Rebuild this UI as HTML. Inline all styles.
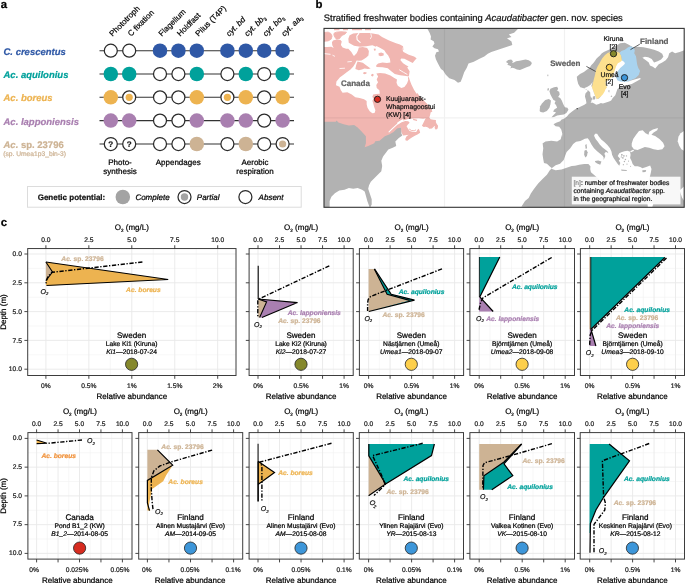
<!DOCTYPE html>
<html><head><meta charset="utf-8"><title>Figure</title>
<style>
html,body{margin:0;padding:0;background:#fff;}
body{width:685px;height:583px;overflow:hidden;font-family:"Liberation Sans",sans-serif;}
svg{display:block;will-change:transform;text-rendering:geometricPrecision;font-family:"Liberation Sans",sans-serif;}
</style></head><body>
<svg width="685" height="583" viewBox="0 0 685 583">
<rect width="685" height="583" fill="#fff"/>
<text x="0.8" y="8" font-size="11.4" font-weight="bold" fill="#000" stroke="#000" stroke-width="0.22">a</text>
<text transform="translate(112.6,36.8) rotate(-45)" font-size="8" fill="#000" stroke="#000" stroke-width="0.2">Phototroph</text>
<text transform="translate(131,36.8) rotate(-45)" font-size="8" fill="#000" stroke="#000" stroke-width="0.2">C fixation</text>
<text transform="translate(161.8,36.8) rotate(-45)" font-size="8" fill="#000" stroke="#000" stroke-width="0.2">Flagellum</text>
<text transform="translate(180.2,36.8) rotate(-45)" font-size="8" fill="#000" stroke="#000" stroke-width="0.2">Holdfast</text>
<text transform="translate(198.6,36.8) rotate(-45)" font-size="8" fill="#000" stroke="#000" stroke-width="0.2">Pilus (T4P)</text>
<text transform="translate(229.2,36.8) rotate(-45)" font-size="8" fill="#000" stroke="#000" stroke-width="0.2"><tspan font-style="italic">cyt. bd</tspan></text>
<text transform="translate(247.6,36.8) rotate(-45)" font-size="8" fill="#000" stroke="#000" stroke-width="0.2"><tspan font-style="italic">cyt. bb</tspan><tspan font-size="5" dy="1.8">3</tspan></text>
<text transform="translate(266,36.8) rotate(-45)" font-size="8" fill="#000" stroke="#000" stroke-width="0.2"><tspan font-style="italic">cyt. bo</tspan><tspan font-size="5" dy="1.8">3</tspan></text>
<text transform="translate(284.4,36.8) rotate(-45)" font-size="8" fill="#000" stroke="#000" stroke-width="0.2"><tspan font-style="italic">cyt. aa</tspan><tspan font-size="5" dy="1.8">3</tspan></text>
<line x1="99.5" y1="50.7" x2="294" y2="50.7" stroke="#333" stroke-width="1.1"/>
<circle cx="110.8" cy="50.7" r="6.5" fill="#fff" stroke="#2b2b2b" stroke-width="1.25"/>
<circle cx="129.2" cy="50.7" r="6.5" fill="#fff" stroke="#2b2b2b" stroke-width="1.25"/>
<circle cx="160" cy="50.7" r="7.25" fill="#2f58a6"/>
<circle cx="178.4" cy="50.7" r="7.25" fill="#2f58a6"/>
<circle cx="196.8" cy="50.7" r="7.25" fill="#2f58a6"/>
<circle cx="227.4" cy="50.7" r="7.25" fill="#2f58a6"/>
<circle cx="245.8" cy="50.7" r="7.25" fill="#2f58a6"/>
<circle cx="264.2" cy="50.7" r="7.25" fill="#2f58a6"/>
<circle cx="282.6" cy="50.7" r="7.25" fill="#2f58a6"/>
<text x="3.5" y="54.7" font-size="9.5" font-weight="bold" font-style="italic" fill="#2f58a6" stroke="#2f58a6" stroke-width="0.22">C. crescentus</text>
<line x1="99.5" y1="74" x2="294" y2="74" stroke="#333" stroke-width="1.1"/>
<circle cx="110.8" cy="74" r="7.25" fill="#00a19b"/>
<circle cx="129.2" cy="74" r="7.25" fill="#00a19b"/>
<circle cx="160" cy="74" r="6.5" fill="#fff" stroke="#2b2b2b" stroke-width="1.25"/>
<circle cx="178.4" cy="74" r="6.5" fill="#fff" stroke="#2b2b2b" stroke-width="1.25"/>
<circle cx="196.8" cy="74" r="7.25" fill="#00a19b"/>
<circle cx="227.4" cy="74" r="6.5" fill="#fff" stroke="#2b2b2b" stroke-width="1.25"/>
<circle cx="245.8" cy="74" r="7.25" fill="#00a19b"/>
<circle cx="264.2" cy="74" r="6.5" fill="#fff" stroke="#2b2b2b" stroke-width="1.25"/>
<circle cx="282.6" cy="74" r="7.25" fill="#00a19b"/>
<text x="3.5" y="78" font-size="9.5" font-weight="bold" font-style="italic" fill="#00a19b" stroke="#00a19b" stroke-width="0.22">Ac. aquilonius</text>
<line x1="99.5" y1="97.3" x2="294" y2="97.3" stroke="#333" stroke-width="1.1"/>
<circle cx="110.8" cy="97.3" r="7.25" fill="#edb350"/>
<circle cx="129.2" cy="97.3" r="6.5" fill="#fff" stroke="#2b2b2b" stroke-width="1.25"/>
<circle cx="129.2" cy="97.3" r="3.6" fill="#edb350"/>
<circle cx="160" cy="97.3" r="6.5" fill="#fff" stroke="#2b2b2b" stroke-width="1.25"/>
<circle cx="178.4" cy="97.3" r="6.5" fill="#fff" stroke="#2b2b2b" stroke-width="1.25"/>
<circle cx="196.8" cy="97.3" r="7.25" fill="#edb350"/>
<circle cx="227.4" cy="97.3" r="6.5" fill="#fff" stroke="#2b2b2b" stroke-width="1.25"/>
<circle cx="227.4" cy="97.3" r="3.6" fill="#edb350"/>
<circle cx="245.8" cy="97.3" r="7.25" fill="#edb350"/>
<circle cx="264.2" cy="97.3" r="6.5" fill="#fff" stroke="#2b2b2b" stroke-width="1.25"/>
<circle cx="282.6" cy="97.3" r="7.25" fill="#edb350"/>
<text x="3.5" y="101.3" font-size="9.5" font-weight="bold" font-style="italic" fill="#edb350" stroke="#edb350" stroke-width="0.22">Ac. boreus</text>
<line x1="99.5" y1="120.6" x2="294" y2="120.6" stroke="#333" stroke-width="1.1"/>
<circle cx="110.8" cy="120.6" r="7.25" fill="#a97fb0"/>
<circle cx="129.2" cy="120.6" r="7.25" fill="#a97fb0"/>
<circle cx="160" cy="120.6" r="6.5" fill="#fff" stroke="#2b2b2b" stroke-width="1.25"/>
<circle cx="178.4" cy="120.6" r="6.5" fill="#fff" stroke="#2b2b2b" stroke-width="1.25"/>
<circle cx="196.8" cy="120.6" r="7.25" fill="#a97fb0"/>
<circle cx="227.4" cy="120.6" r="7.25" fill="#a97fb0"/>
<circle cx="245.8" cy="120.6" r="7.25" fill="#a97fb0"/>
<circle cx="264.2" cy="120.6" r="6.5" fill="#fff" stroke="#2b2b2b" stroke-width="1.25"/>
<circle cx="282.6" cy="120.6" r="7.25" fill="#a97fb0"/>
<text x="3.5" y="124.6" font-size="9.5" font-weight="bold" font-style="italic" fill="#a97fb0" stroke="#a97fb0" stroke-width="0.22">Ac. lapponiensis</text>
<line x1="99.5" y1="144" x2="294" y2="144" stroke="#333" stroke-width="1.1"/>
<circle cx="110.8" cy="144" r="6.5" fill="#fff" stroke="#2b2b2b" stroke-width="1.25"/>
<text x="110.8" y="146.8" font-size="8" text-anchor="middle" font-weight="bold" fill="#1a1a1a" stroke="#1a1a1a" stroke-width="0.22">?</text>
<circle cx="129.2" cy="144" r="6.5" fill="#fff" stroke="#2b2b2b" stroke-width="1.25"/>
<text x="129.2" y="146.8" font-size="8" text-anchor="middle" font-weight="bold" fill="#1a1a1a" stroke="#1a1a1a" stroke-width="0.22">?</text>
<circle cx="160" cy="144" r="6.5" fill="#fff" stroke="#2b2b2b" stroke-width="1.25"/>
<circle cx="178.4" cy="144" r="6.5" fill="#fff" stroke="#2b2b2b" stroke-width="1.25"/>
<circle cx="196.8" cy="144" r="7.25" fill="#cdb394"/>
<circle cx="227.4" cy="144" r="6.5" fill="#fff" stroke="#2b2b2b" stroke-width="1.25"/>
<circle cx="245.8" cy="144" r="7.25" fill="#cdb394"/>
<circle cx="264.2" cy="144" r="6.5" fill="#fff" stroke="#2b2b2b" stroke-width="1.25"/>
<circle cx="282.6" cy="144" r="6.5" fill="#fff" stroke="#2b2b2b" stroke-width="1.25"/>
<circle cx="282.6" cy="144" r="3.6" fill="#cdb394"/>
<text x="3.5" y="148" font-size="9.5" font-weight="bold" fill="#cdb394" stroke="#cdb394" stroke-width="0.22"><tspan font-style="italic">Ac.</tspan> sp. 23796</text>
<text x="3.2" y="156.4" font-size="6.7" fill="#cdb394" stroke="#cdb394" stroke-width="0.22">(sp. Umea1p3_bin-3)</text>
<text x="120" y="164.6" font-size="8" text-anchor="middle" fill="#000" stroke="#000" stroke-width="0.22">Photo-</text>
<text x="120" y="174.3" font-size="8" text-anchor="middle" fill="#000" stroke="#000" stroke-width="0.22">synthesis</text>
<text x="178.2" y="165" font-size="8" text-anchor="middle" fill="#000" stroke="#000" stroke-width="0.22">Appendages</text>
<text x="255" y="165" font-size="8" text-anchor="middle" fill="#000" stroke="#000" stroke-width="0.22">Aerobic</text>
<text x="255" y="174.3" font-size="8" text-anchor="middle" fill="#000" stroke="#000" stroke-width="0.22">respiration</text>
<rect x="27.5" y="186.5" width="273.7" height="20.7" fill="#fff" stroke="#dcdcdc" stroke-width="1"/>
<text x="37.7" y="200.2" font-size="8" font-weight="bold" fill="#111" stroke="#111" stroke-width="0.22">Genetic potential:</text>
<circle cx="122.8" cy="197" r="7.25" fill="#a3a3a3"/>
<text x="135.4" y="199.9" font-size="8" font-style="italic" fill="#000" stroke="#000" stroke-width="0.22">Complete</text>
<circle cx="184.5" cy="197" r="6.5" fill="#fff" stroke="#2b2b2b" stroke-width="1.25"/>
<circle cx="184.5" cy="197" r="3.7" fill="#a3a3a3"/>
<text x="196.8" y="199.9" font-size="8" font-style="italic" fill="#000" stroke="#000" stroke-width="0.22">Partial</text>
<circle cx="245.4" cy="197" r="6.5" fill="#fff" stroke="#2b2b2b" stroke-width="1.25"/>
<text x="258.6" y="199.9" font-size="8" font-style="italic" fill="#000" stroke="#000" stroke-width="0.22">Absent</text>
<text x="315.4" y="8" font-size="11.4" font-weight="bold" fill="#000" stroke="#000" stroke-width="0.22">b</text>
<text x="323.8" y="20.6" font-size="9.4" fill="#111" stroke="#111" stroke-width="0.22">Stratified freshwater bodies containing <tspan font-style="italic">Acaudatibacter</tspan> gen. nov. species</text>
<clipPath id="mc"><rect x="324.0" y="28.4" width="360.20000000000005" height="178.9"/></clipPath>
<g clip-path="url(#mc)">
<rect x="324.0" y="28.4" width="360.20000000000005" height="178.9" fill="#fff"/>
<polygon points="314.99,46.79 327.26,47.02 331.34,46.79 333.68,47.96 332.28,45.27 331.93,42.35 333.09,40.6 336.6,39.43 340.45,40.01 341.75,41.38 340.88,44.89 342.63,47.51 346.13,48.83 348.32,48.83 351.38,51.89 353.13,54.96 354.01,56.01 356.64,53.2 357.95,50.58 358.83,47.51 362.77,47.08 367.15,47.95 368.9,51.02 368.46,55.39 366.27,57.58 363.64,59.33 361.45,60.47 358.83,60.82 356.64,60.47 355.32,63.27 353.13,66.78 350.51,69.4 347.01,72.03 343.5,74.66 340,77.29 336.45,81.38 336.01,85.32 339.51,86.63 340.83,90.13 342.58,92.76 347.39,92.32 351.77,94.51 355.27,97.14 359.65,98.02 364.03,99.33 366.66,101.08 366.66,104.15 367.53,107.65 369.72,111.15 372.35,113.34 374.54,112.9 375.42,110.27 374.1,106.77 373.23,103.27 372.35,100.64 373.66,98.89 372.35,96.7 373.23,94.51 376.29,94.08 379.79,93.64 379.36,90.13 376.73,87.95 376.29,84.88 378.04,82.25 376.73,79.63 377.6,77 376.7,79.6 378.1,76.5 376.4,73.5 379.9,73 385.1,73.5 390.4,75.6 393.9,77.8 397,79.6 396.5,82.7 397.8,85.7 401.3,87.9 404.4,87 407,83.5 408.3,80 407.9,77.4 408.8,77 409.7,80 411.4,84.4 414,89.7 416.7,94 417.03,92.76 420.53,97.14 424.03,100.64 427.53,104.15 431.04,108.52 432.35,111.59 429.72,112.9 428.41,115.53 425.78,118.16 423.16,118.86 418.78,118.16 412.65,118.59 408.27,119.03 404.77,119.91 401.26,121.66 401.75,122.26 405.25,120.95 408.32,121.21 409.63,122.7 407.88,124.45 406.57,126.2 407.88,128.39 409.63,131.02 413.13,131.89 416.2,131.89 417.51,129.7 418.83,128.83 419.7,131.02 420.14,132.77 417.51,134.52 414.89,135.83 412.26,137.15 409.63,138.9 407.44,140.82 405.69,140.47 405.25,138.9 406.57,136.27 408.76,134.69 405.25,135.22 403.06,135.39 401.31,131.89 400.88,127.95 400,127.51 395,140 380,150 360,152 324,150 315,150" fill="#f1b6b1"/>
<polyline points="324,53.6 330.5,54.3" fill="none" stroke="#ffffff" stroke-width="0.9"/>
<polyline points="332.5,55.2 335,56.4" fill="none" stroke="#ffffff" stroke-width="0.8"/>
<polyline points="347.39,61.9 351.77,61.46" fill="none" stroke="#ffffff" stroke-width="0.8"/>
<polyline points="339.51,68.56 344.94,68.21" fill="none" stroke="#ffffff" stroke-width="0.8"/>
<polyline points="400.88,121.21 396.5,124.89 392.12,128.83 389.05,131.89" fill="none" stroke="#ffffff" stroke-width="1.1" stroke-linecap="round"/>
<polyline points="402.63,120.33 398.25,123.13" fill="none" stroke="#ffffff" stroke-width="2.0" stroke-linecap="round"/>
<polygon points="357.51,61.52 362.77,62.84 367.15,65.9 370.65,68.53 368.02,69.05 364.52,68.53 361.89,69.4 358.83,70.28 355.32,68.97 356.2,65.03" fill="#f1b6b1"/>
<polygon points="348.32,38.76 349.63,35.25 353.13,33.5 358.83,33.06 369.77,33.06 378.53,34.38 382.03,37.01 389.04,40.51 396.04,43.13 399.98,44.45 403.02,46.14 403.45,49.64 401.7,51.39 403.09,46.75 401.78,49.38 403.53,52.01 408.78,54.63 414.04,56.38 416.66,58.13 414.04,61.2 412.72,62.95 408.78,61.02 404.4,58.84 401.34,58.57 400.29,60.06 403.09,63.13 406.16,65.32 408.52,66.54 407.21,67.59 409.66,71.27 409.22,73.9 408.78,76.52 406.16,76.09 400.03,75.21 394.77,73.9 391.27,71.27 387.77,68.2 382.51,67.33 376.38,66.89 376.21,65.14 378.13,63.39 382.51,62.51 386.89,62.95 390.39,62.51 389.96,59.01 388.2,55.51 386.02,52.88 384.26,50.25 379.89,47.63 376.38,45.88 375.9,46.64 372.4,45.32 366.27,46.2 360.14,46.64 354.01,45.76 348.76,42.7" fill="#f1b6b1"/>
<polyline points="407.03,74.33 403.53,72.32 399.59,69.96" fill="none" stroke="#ffffff" stroke-width="0.9" stroke-linecap="round"/>
<polyline points="358.83,33.33 356.81,36.13 357.16,39.63 360.14,42.43" fill="none" stroke="#ffffff" stroke-width="1.1" stroke-linecap="round"/>
<polyline points="370.82,33.68 371.52,36.57 370.47,38.58" fill="none" stroke="#ffffff" stroke-width="0.8" stroke-linecap="round"/>
<polygon points="323.31,32.57 328.13,32.13 330.76,33.44 332.07,36.07 331.19,39.13 328.13,40.89 323.31,41.32" fill="#f1b6b1" stroke="#f1b6b1" stroke-width="0.9"/>
<polygon points="334.26,33.01 336.45,32.13 340.83,31.69 346.52,32.13 345.2,33.88 342.58,35.19 340.83,36.51 339.51,38.7 336.45,39.13 334.7,36.95 333.82,34.76" fill="#f1b6b1" stroke="#f1b6b1" stroke-width="0.9"/>
<rect x="334" y="28.4" width="5.5" height="1.8" fill="#f1b6b1"/>
<rect x="343" y="28.4" width="5" height="1.8" fill="#f1b6b1"/>
<rect x="352" y="28.4" width="10" height="1.8" fill="#f1b6b1"/>
<rect x="365" y="28.4" width="6" height="1.8" fill="#f1b6b1"/>
<polygon points="378.53,53.2 381.16,52.59 383.78,53.47 383.61,55.57 380.72,56.27 378.7,55.39" fill="#f1b6b1"/>
<polygon points="373.71,48.83 375.46,48.39 375.9,50.32 374.15,50.84" fill="#f1b6b1"/>
<polygon points="362.77,73.08 364.52,72.03 366.71,72.38 366.27,73.78 364.08,74.31" fill="#f1b6b1"/>
<polygon points="371.09,74.66 372.57,73.78 373.8,74.83 372.92,76.41 371.35,76.06" fill="#f1b6b1"/>
<polygon points="421.89,125.76 423.2,123.13 425.39,118.76 427.15,115.25 429.33,112.63 430.65,112.19 430.21,114.82 429.33,117.44 430.65,119.19 433.27,119.63 435.9,120.07 435.9,122.26 436.78,124.01 438.09,125.76 437.65,128.39 435.9,129.7 434.59,127.95 435.03,125.76 433.71,126.64 431.96,128.39 429.33,128.83 428.02,127.51 425.83,126.64 423.64,127.08" fill="#f1b6b1"/>
<polyline points="409.19,129 411.38,130.49 414.19,130.84 416.02,129.79" fill="none" stroke="#f1b6b1" stroke-width="1.0"/>
<polyline points="413.13,119.46 417.08,120.33" fill="none" stroke="#f1b6b1" stroke-width="1.2"/>
<polygon points="426.5,27 429.7,33 431,36.5 430.6,39.6 433.7,41.3 434.5,43.5 432.4,46.6 434.5,48.3 438,49.2 439,51.4 436.3,52.3 435,55.8 435.9,59.3 437.6,62.8 439.4,66.3 441,69 443.1,70.4 445.8,74.8 449.3,78.3 454.5,80 458,82.7 460.7,81.8 462.4,77.4 464.2,72.2 466.8,67.8 468.5,63.4 473.8,61.7 479,59 484.3,56.4 487.8,53.8 491.3,52 496.6,50.3 501.8,48.5 507.1,46.8 512.3,45 511.5,41.5 507,38.2 511.5,37.1 508.8,34.5 514.1,32.8 517.6,29.3 518,27" fill="#b2b2b2"/>
<polygon points="505.95,62.08 508.13,60.06 511.2,59.54 512.95,61.2 512.08,62.95 513.83,62.51 516.02,61.2 519.52,60.76 523.02,59.89 525.65,59.45 528.71,60.32 531.34,62.08 531.78,63.83 530.03,66.02 526.52,67.33 523.02,68.64 519.96,69.96 516.89,69.52 514.26,68.2 512.08,67.77 510.32,68.47 511.2,66.45 509.45,65.58 507.26,64.7 508.31,63.39" fill="#b2b2b2"/>
<rect x="547.2" y="74.6" width="1.2" height="1.6" fill="#c4c4c4"/>
<polygon points="320,121.74 335.77,121.74 336.64,120.51 338.4,122.61 343.65,124.37 348.91,125.42 354.16,124.89 357.67,127.52 362.05,131.9 365.9,136.28 365.9,143.29 364.67,147.14 368.18,145.91 374.31,143.29 375.19,141.18 379.57,140.66 384.82,136.28 389.2,134.53 393.58,131.9 397.08,128.4 400.94,127.52 401.46,133.65 402.34,135.4 398.84,138.03 395.33,141.53 396.21,145.91 392.7,147.67 388.33,149.42 385.7,152.92 383.07,156.43 381.32,160.81 382.19,166.06 381.32,171.32 377.81,174.82 374.31,178.33 370.81,181.83 369.05,185.33 368.18,188.84 369.93,194.09 371.68,199.35 371.68,204.6 369.93,208.11 367.3,201.1 365.9,195.84 364.67,191.46 362.05,189.71 357.67,187.96 353.29,188.84 348.91,187.96 344.53,189.71 339.27,190.59 334.89,193.22 331.39,196.72 329.64,201.1 329.64,208.11 320,208.11" fill="#b2b2b2"/>
<polygon points="690,50 684.18,50.28 679.74,52.03 675.07,53.2 672.15,51.45 669.23,53.2 668.07,57.28 665.73,60.2 662.23,62.54 658.72,64.29 655.22,68.38 652.88,66.63 649.96,65.46 648.8,62.54 645.88,60.2 642.37,57.87 644.71,56.7 648.21,57.28 651.72,59.04 654.05,62.54 657.55,61.37 661.06,59.62 663.39,56.7 662.23,53.78 658.72,51.45 654.05,49.69 649.38,48.53 643.54,47.36 637.7,46.77 633.03,47.36 628.36,44.44 624.85,42.69 620.18,43.27 617.3,45.1 614,47 611.1,49.1 608.2,49.9 606,51 603.8,52.1 601.6,53.5 599.7,55.8 597.9,57.2 596.4,58.7 594.9,60.9 593.4,63.1 591.2,65.3 589.8,67.6 586.8,69.8 583.9,72 580,74 576.8,76.8 577.21,80 578.24,84.12 580.3,87.21 583.9,88.24 588.02,90.81 585.44,93.38 584.93,96.47 585.96,100.07 586.47,103.16 584.41,104.71 581.32,106.25 578.24,107.79 575.15,109.34 572.06,111.4 568.97,113.97 566.91,116.55 564.34,118.6 561.25,119.63 560.22,121.18 556.1,122.72 553.53,124.27 555.59,126.32 559.19,126.84 561.25,129.41 562.28,133.53 561.97,137.65 561.5,134.85 560.77,139.23 557.12,141.42 551.28,140.69 545.44,141.42 542.52,143.61 542.52,142.52 543.25,148.36 542.52,154.2 543.25,159.31 543.98,162.96 546.9,163.69 549.82,166.61 552.01,168.36 549.82,170.26 546.9,174.64 542.52,179.01 538.14,183.39 533.76,189.23 530.84,193.61 528.65,197.99 525,200.91 521.35,206.75 690,212 690,50" fill="#b2b2b2"/>
<polygon points="593.36,93.07 591.61,88.39 592.77,83.72 593.94,79.05 595.11,74.38 595.69,70.88 597.45,66.79 599.78,62.7 602.12,58.61 605.04,55.11 607.96,52.77 610.88,52.19 616.13,51.61 619.64,52.77 621.39,56.28 621.97,60.36 624.89,61.53 621.39,68.54 619.05,76.72 616.72,84.89 613.21,90.73 609.71,95.4 600.88,96.47 596.77,99.56 595.74,97.5 594.19,93.38 592.65,89.26 591.41,85.66" fill="#fde08f"/>
<polygon points="619.64,52.77 621.39,51.02 624.89,49.85 627.81,47.52 630.73,46.35 633.65,47.52 634.82,50.44 634.23,53.36 635.99,56.28 636.57,60.36 637.15,64.45 638.32,67.96 640.07,70.88 638.67,74.96 635.64,77.88 631.9,79.75 628.39,81.39 624.31,82.79 620.22,82.79 616.13,81.39 614.38,76.72 616.13,69.71 620.22,65.04 621.97,60.6 621.39,56.28" fill="#a9d3ef"/>
<polygon points="583.9,88.24 587.5,86.69 590.59,84.63 592.65,82.06 591.41,85.66 592.65,89.26 594.19,93.38 595.74,97.5 596.77,99.25 598.82,98.46 600.88,96.4 602.94,94.34 604.49,91.77 605.52,89.19 607.06,87.13 606.03,85.59 605.52,81.99 612.63,76.72 613.8,73.21 614.96,69.71 616.13,66.2 617.88,63.28 620.22,62.12 621.97,60.6 624.31,62.12 624.89,63.87 623.14,65.62 620.22,67.96 617.88,70.88 616.72,73.8 616.13,77.3 617.3,80.22 620.22,81.5 624.31,81.74 628.39,81.39 631.9,80.34 635.4,79.17 640.07,78.12 640.77,79.05 631.77,84.04 627.65,85.07 623.53,86.1 619.41,87.13 617.35,89.19 616.32,92.28 615.3,95.37 612.72,97.94 611.18,100.52 609.12,101.55 606.03,102.57 602.94,103.6 600.88,103.09 598.82,104.12 596.25,104.63 594.19,103.6 592.13,102.57 590.59,103.09 591.41,101.31 591.21,98.53 590.38,95.44 590.18,92.15 588.33,90.6" fill="#ffffff"/>
<polygon points="591,97.71 592.24,97.5 592.44,99.77 591.21,100.38" fill="#b2b2b2"/>
<polygon points="592.85,96.47 594.91,96.06 595.33,98.74 593.88,99.97 592.85,98.74" fill="#b2b2b2"/>
<polygon points="608.5,90.02 609.53,90.32 609.32,92.38 608.5,91.97" fill="#b2b2b2"/>
<polygon points="610.66,95.88 612,95.47 612.21,96.71 610.97,97.12" fill="#b2b2b2"/>
<polygon points="539.63,110.88 540.15,106.25 542.21,103.16 545.29,100.07 548.9,99.04 550.96,100.59 550.44,104.19 549.41,107.79 546.84,110.88 543.24,112.43 540.66,112.12" fill="#b2b2b2"/>
<polygon points="550.44,88.75 554.04,87.21 557.13,86.69 558.16,88.75 557.13,90.81 559.19,91.84 559.71,94.41 558.16,96.99 560.22,98.02 561.77,100.59 563.31,104.19 564.85,107.28 567.43,107.79 568.46,109.85 566.4,112.94 563.82,114.49 560.22,115 557.13,115.52 554.04,117.06 551.47,117.27 554.04,114.49 556.1,112.43 553.02,111.4 554.56,109.34 557.13,107.79 556.1,105.22 554.56,103.16 555.59,101.1 553.53,100.07 551.99,97.5 550.44,94.41 549.41,91.32" fill="#b2b2b2"/>
<polygon points="547.35,88.75 548.9,88.03 548.9,90.29 547.56,90.81" fill="#b2b2b2"/>
<polygon points="552.01,168.07 555.66,165.15 560.04,163.69 563.69,160.04 565.15,155.66 566.61,152.01 570.26,148.36 573.18,143.98 576.09,141.79 580.47,141.06 584.85,138.87 587.77,138.14 589.41,140.44 591.47,144.56 594.04,148.16 597.13,151.25 600.22,153.82 602.79,155.88 603.82,157.94 602.79,160.52 601.25,161.75 604.34,158.46 605.37,155.88 604.34,153.82 605.88,151.77 608.46,153.31 607.43,151.25 604.85,149.19 602.28,147.13 599.71,144.56 597.65,141.47 595.59,138.9 594.04,135.81 595.07,133.75 597.13,133.75 598.68,136.32 601.25,139.41 604.34,141.99 607.43,145.07 610,148.16 611.55,151.77 612.06,154.85 613.6,157.94 615.66,161.03 617.72,164.12 619.27,165.66 620.3,163.09 618.75,160.52 620.3,158.97 617.72,155.88 619.27,153.31 621.32,152.28 624.41,151.25 627.5,150.74 630.08,151.77 630.59,154.85 630.08,157.94 631.62,161.03 632.65,164.12 634.71,166.18 637.8,166.18 640.88,167.21 642.3,168.25 646.24,166.93 650.18,165.62 651.5,168.91 650.84,172.85 649.53,178.1 647.56,183.36 640,184 630,183 620,185 610,181 600,180 590.96,172.35 590.24,169.27 590.44,166.18 588.38,163.91 584.26,164.12 579.12,164.63 575,165.66 571.72,165.88 565.88,168.07 561.5,169.53 555.66,170.26 552.01,168.94" fill="#ffffff"/>
<polygon points="595.07,161.03 598.16,160.52 601.46,161.55 600.22,164.63 597.13,163.6 595.07,162.06" fill="#b2b2b2"/>
<polygon points="584.37,150.74 586.32,149.71 587.66,152.28 586.94,155.88 585.29,157.53 584.16,154.85" fill="#b2b2b2"/>
<polygon points="585.19,145.07 586.53,144.04 587.04,148.16 585.71,148.99" fill="#b2b2b2"/>
<polygon points="642.3,170.22 646.24,169.96 645.58,171.93 642.56,172.32" fill="#b2b2b2"/>
<polygon points="621.12,169.47 626.47,170.09 626.99,171.12 621.53,170.81" fill="#b2b2b2"/>
<circle cx="621.84" cy="154.85" r="0.93" fill="#b2b2b2"/>
<circle cx="623.9" cy="155.88" r="0.82" fill="#b2b2b2"/>
<circle cx="622.87" cy="157.94" r="0.82" fill="#b2b2b2"/>
<circle cx="625.44" cy="159.49" r="0.72" fill="#b2b2b2"/>
<circle cx="626.47" cy="155.88" r="0.72" fill="#b2b2b2"/>
<circle cx="624.41" cy="161.55" r="0.72" fill="#b2b2b2"/>
<circle cx="626.99" cy="164.12" r="0.62" fill="#b2b2b2"/>
<circle cx="623.38" cy="164.63" r="0.62" fill="#b2b2b2"/>
<circle cx="621.32" cy="156.91" r="0.62" fill="#b2b2b2"/>
<circle cx="628.53" cy="161.03" r="0.62" fill="#b2b2b2"/>
<circle cx="630.59" cy="166.18" r="0.52" fill="#b2b2b2"/>
<polygon points="630.08,151.25 633.16,149.71 634.19,150.74 631.1,152.28" fill="#ffffff"/>
<polygon points="631.72,143.39 633.18,139.01 636.09,134.64 639.01,130.99 642.66,130.26 645.58,133.18 648.5,134.64 649.23,131.72 652.88,129.53 657.99,128.07 657.26,130.26 653.61,132.45 651.42,134.64 655.07,136.09 659.45,139.01 663.1,142.66 664.56,146.31 662.37,149.23 657.99,149.96 653.61,149.23 649.23,147.77 644.85,147.04 641.2,148.5 637.55,149.96 633.91,149.23 631.72,146.31" fill="#ffffff"/>
<polygon points="687.19,130.26 683.98,130.99 680.62,133.18 678.43,136.82 677.7,141.2 679.16,145.58 681.35,149.23 683.98,150.69 687.19,151.42" fill="#ffffff"/>
<polygon points="679.6,190.5 684.5,186 684.5,201.5 682,197.5" fill="#ffffff"/>
<polygon points="647.3,202.6 653.5,203 652,208 648,208" fill="#ffffff"/>
<rect x="576.6" y="108.0" width="1.3" height="1.3" fill="#555"/>
<path d="M444.5 28V208M564.5 28V208M324 117.8H685" stroke="#000" stroke-opacity="0.055" stroke-width="1.2" fill="none"/>
</g>
<rect x="571.8" y="176.7" width="108.7" height="27.7" fill="#fff" fill-opacity="0.9"/>
<text x="573.5" y="184.8" font-size="6.7" fill="#111" stroke="#111" stroke-width="0.22"><tspan fill="#8a8a8a" stroke="#8a8a8a">[n]</tspan>: number of freshwater bodies</text>
<text x="573.5" y="193" font-size="6.7" fill="#111" stroke="#111" stroke-width="0.22">containing <tspan font-style="italic">Acaudatibacter</tspan> spp.</text>
<text x="573.5" y="201" font-size="6.7" fill="#111" stroke="#111" stroke-width="0.22">in the geographical region.</text>
<text x="341" y="86" font-size="8" font-weight="bold" fill="#5f5f5f" stroke="#5f5f5f" stroke-width="0.22">Canada</text>
<text x="550.2" y="65.6" font-size="8" font-weight="bold" fill="#5f5f5f" stroke="#5f5f5f" stroke-width="0.22">Sweden</text>
<text x="640" y="43.6" font-size="8" font-weight="bold" fill="#5f5f5f" stroke="#5f5f5f" stroke-width="0.22">Finland</text>
<path d="M586.4 66.4L595.7 71.5M639.8 44.2L630.5 49.6" stroke="#222" stroke-width="0.7" fill="none"/>
<circle cx="377.5" cy="99.3" r="3.15" fill="#d72c20" stroke="#1a1a1a" stroke-width="0.9"/>
<circle cx="613.5" cy="53.7" r="3.15" fill="#85882c" stroke="#1a1a1a" stroke-width="0.9"/>
<circle cx="609.4" cy="67.4" r="3.15" fill="#fdcf4b" stroke="#1a1a1a" stroke-width="0.9"/>
<circle cx="624.5" cy="77.7" r="3.15" fill="#3d96d9" stroke="#1a1a1a" stroke-width="0.9"/>
<text x="386" y="100.9" font-size="6.8" fill="#111" stroke="#111" stroke-width="0.22">Kuujjuarapik-</text>
<text x="386" y="108.8" font-size="6.8" fill="#111" stroke="#111" stroke-width="0.22">Whapmagoostui</text>
<text x="386" y="117.2" font-size="6.8" fill="#111" stroke="#111" stroke-width="0.22">(KW) [4]</text>
<text x="613.4" y="41.2" font-size="6.8" text-anchor="middle" fill="#111" stroke="#111" stroke-width="0.22">Kiruna</text>
<text x="613.4" y="48.8" font-size="6.8" text-anchor="middle" fill="#111" stroke="#111" stroke-width="0.22">[2]</text>
<text x="609.6" y="77.4" font-size="6.8" text-anchor="middle" fill="#111" stroke="#111" stroke-width="0.22">Umeå</text>
<text x="609.4" y="84.4" font-size="6.8" text-anchor="middle" fill="#111" stroke="#111" stroke-width="0.22">[2]</text>
<text x="624.7" y="89" font-size="6.8" text-anchor="middle" fill="#111" stroke="#111" stroke-width="0.22">Evo</text>
<text x="624.7" y="96.1" font-size="6.8" text-anchor="middle" fill="#111" stroke="#111" stroke-width="0.22">[4]</text>
<rect x="324.0" y="28.4" width="360.20000000000005" height="178.9" fill="none" stroke="#333" stroke-width="1.1"/>
<text x="0.8" y="225.5" font-size="11.4" font-weight="bold" fill="#000" stroke="#000" stroke-width="0.22">c</text>
<rect x="27.7" y="248.55" width="208.3" height="126.95" fill="#fff"/>
<path d="M67.38 248.55V375.5M110.33 248.55V375.5M153.28 248.55V375.5M196.23 248.55V375.5M27.7 268.4H236M27.7 297.2H236M27.7 326H236M27.7 354.8H236" stroke="#f2f2f2" stroke-width="0.6" fill="none"/>
<path d="M45.9 248.55V375.5M27.7 254H236M88.85 248.55V375.5M27.7 282.8H236M131.8 248.55V375.5M27.7 311.6H236M174.75 248.55V375.5M27.7 340.4H236M217.7 248.55V375.5M27.7 369.2H236" stroke="#e9e9e9" stroke-width="0.9" fill="none"/>
<polygon points="45.9,262 52.5,272 45.9,280.7" fill="#cdb394"/>
<polygon points="45.9,262 168.2,279.5 50,285.5 45.9,285.3 45.9,280.7 52.5,272" fill="#edb350"/>
<polyline points="45.9,262 52.5,272 45.9,280.7" fill="none" stroke="#000" stroke-width="1.1" stroke-linejoin="miter" stroke-linecap="butt"/>
<polyline points="45.9,262 168.2,279.5 46.5,285.5" fill="none" stroke="#000" stroke-width="1.1" stroke-linejoin="miter" stroke-linecap="butt"/>
<polyline points="142.4,262 52,272.3 48,276.5 46.3,281 46,284.5" fill="none" stroke="#000" stroke-width="1.4" stroke-dasharray="4.3 1.6 1.3 1.6" stroke-linejoin="round"/>
<text x="61.3" y="261.2" font-size="6.7" font-weight="bold" fill="#cdb394" stroke="#cdb394" stroke-width="0.22"><tspan font-style="italic">Ac.</tspan> sp. 23796</text>
<text x="126.1" y="291.9" font-size="6.7" font-weight="bold" fill="#edb350" stroke="#edb350" stroke-width="0.22"><tspan font-style="italic">Ac. boreus</tspan></text>
<text x="40.6" y="293.6" font-size="7" font-style="italic" fill="#111" stroke="#111" stroke-width="0.2">O<tspan font-size="4.2" dy="1.7">2</tspan></text>
<rect x="27.7" y="248.55" width="208.3" height="126.95" fill="none" stroke="#3d3d3d" stroke-width="1.0"/>
<path d="M45.9 248.55v-3.3M45.9 375.5v3.3M27.7 254h-3.3M88.85 248.55v-3.3M88.85 375.5v3.3M27.7 282.8h-3.3M131.8 248.55v-3.3M131.8 375.5v3.3M27.7 311.6h-3.3M174.75 248.55v-3.3M174.75 375.5v3.3M27.7 340.4h-3.3M217.7 248.55v-3.3M217.7 375.5v3.3M27.7 369.2h-3.3" stroke="#333333" stroke-width="0.9" fill="none"/>
<text x="45.9" y="241.95" font-size="6.7" text-anchor="middle" fill="#1c1c1c" stroke="#1c1c1c" stroke-width="0.22">0.0</text>
<text x="45.9" y="387.55" font-size="6.7" text-anchor="middle" fill="#1c1c1c" stroke="#1c1c1c" stroke-width="0.22">0%</text>
<text x="21.9" y="256.2" font-size="6.7" text-anchor="end" fill="#1c1c1c" stroke="#1c1c1c" stroke-width="0.22">0.0</text>
<text x="88.85" y="241.95" font-size="6.7" text-anchor="middle" fill="#1c1c1c" stroke="#1c1c1c" stroke-width="0.22">2.5</text>
<text x="88.85" y="387.55" font-size="6.7" text-anchor="middle" fill="#1c1c1c" stroke="#1c1c1c" stroke-width="0.22">0.5%</text>
<text x="21.9" y="285" font-size="6.7" text-anchor="end" fill="#1c1c1c" stroke="#1c1c1c" stroke-width="0.22">2.5</text>
<text x="131.8" y="241.95" font-size="6.7" text-anchor="middle" fill="#1c1c1c" stroke="#1c1c1c" stroke-width="0.22">5.0</text>
<text x="131.8" y="387.55" font-size="6.7" text-anchor="middle" fill="#1c1c1c" stroke="#1c1c1c" stroke-width="0.22">1%</text>
<text x="21.9" y="313.8" font-size="6.7" text-anchor="end" fill="#1c1c1c" stroke="#1c1c1c" stroke-width="0.22">5.0</text>
<text x="174.75" y="241.95" font-size="6.7" text-anchor="middle" fill="#1c1c1c" stroke="#1c1c1c" stroke-width="0.22">7.5</text>
<text x="174.75" y="387.55" font-size="6.7" text-anchor="middle" fill="#1c1c1c" stroke="#1c1c1c" stroke-width="0.22">1.5%</text>
<text x="21.9" y="342.6" font-size="6.7" text-anchor="end" fill="#1c1c1c" stroke="#1c1c1c" stroke-width="0.22">7.5</text>
<text x="217.7" y="241.95" font-size="6.7" text-anchor="middle" fill="#1c1c1c" stroke="#1c1c1c" stroke-width="0.22">10.0</text>
<text x="217.7" y="387.55" font-size="6.7" text-anchor="middle" fill="#1c1c1c" stroke="#1c1c1c" stroke-width="0.22">2%</text>
<text x="21.9" y="371.4" font-size="6.7" text-anchor="end" fill="#1c1c1c" stroke="#1c1c1c" stroke-width="0.22">10.0</text>
<text x="131.85" y="229.5" font-size="8" text-anchor="middle" fill="#000" stroke="#000" stroke-width="0.2">O<tspan font-size="4.6" dy="2">2</tspan><tspan dy="-2"> (mg/L)</tspan></text>
<text x="131.85" y="398.9" font-size="8" text-anchor="middle" fill="#000" stroke="#000" stroke-width="0.22">Relative abundance</text>
<text transform="translate(5.8,312.02) rotate(-90)" font-size="8" text-anchor="middle" fill="#000" stroke="#000" stroke-width="0.2">Depth (m)</text>
<rect x="249.1" y="248.55" width="104.1" height="126.95" fill="#fff"/>
<path d="M268.76 248.55V375.5M290.28 248.55V375.5M311.8 248.55V375.5M333.32 248.55V375.5M249.1 268.4H353.2M249.1 297.2H353.2M249.1 326H353.2M249.1 354.8H353.2" stroke="#f2f2f2" stroke-width="0.6" fill="none"/>
<path d="M258 248.55V375.5M249.1 254H353.2M279.52 248.55V375.5M249.1 282.8H353.2M301.04 248.55V375.5M249.1 311.6H353.2M322.56 248.55V375.5M249.1 340.4H353.2M344.08 248.55V375.5M249.1 369.2H353.2" stroke="#e9e9e9" stroke-width="0.9" fill="none"/>
<polyline points="258.2,265.8 258.2,299.1" fill="none" stroke="#000" stroke-width="1.1" stroke-linejoin="miter" stroke-linecap="butt"/>
<polygon points="258.2,299 266.6,301.9 259.6,317.5 258.2,317.5" fill="#cdb394"/>
<polygon points="258.2,299 297.5,302.6 261.9,317.5 259.6,317.5 266.6,301.9" fill="#a97fb0"/>
<polyline points="258.2,299 266.6,301.9 259.6,317.5" fill="none" stroke="#000" stroke-width="1.1" stroke-linejoin="miter" stroke-linecap="butt"/>
<polyline points="258.2,299 297.5,302.6 261.9,317.5" fill="none" stroke="#000" stroke-width="1.1" stroke-linejoin="miter" stroke-linecap="butt"/>
<polyline points="329.3,265.8 260,298.5 257.8,301 257.8,317" fill="none" stroke="#000" stroke-width="1.4" stroke-dasharray="4.3 1.6 1.3 1.6" stroke-linejoin="round"/>
<text x="287.7" y="314.8" font-size="6.7" font-weight="bold" fill="#a97fb0" stroke="#a97fb0" stroke-width="0.22"><tspan font-style="italic">Ac. lapponiensis</tspan></text>
<text x="278.2" y="323.1" font-size="6.7" font-weight="bold" fill="#cdb394" stroke="#cdb394" stroke-width="0.22"><tspan font-style="italic">Ac.</tspan> sp. 23796</text>
<text x="254" y="326.6" font-size="7" font-style="italic" fill="#111" stroke="#111" stroke-width="0.2">O<tspan font-size="4.2" dy="1.7">2</tspan></text>
<rect x="249.1" y="248.55" width="104.1" height="126.95" fill="none" stroke="#3d3d3d" stroke-width="1.0"/>
<path d="M258 248.55v-3.3M258 375.5v3.3M249.1 254h-3.3M279.52 248.55v-3.3M279.52 375.5v3.3M249.1 282.8h-3.3M301.04 248.55v-3.3M301.04 375.5v3.3M249.1 311.6h-3.3M322.56 248.55v-3.3M322.56 375.5v3.3M249.1 340.4h-3.3M344.08 248.55v-3.3M344.08 375.5v3.3M249.1 369.2h-3.3" stroke="#333333" stroke-width="0.9" fill="none"/>
<text x="258" y="241.95" font-size="6.7" text-anchor="middle" fill="#1c1c1c" stroke="#1c1c1c" stroke-width="0.22">0.0</text>
<text x="258" y="387.55" font-size="6.7" text-anchor="middle" fill="#1c1c1c" stroke="#1c1c1c" stroke-width="0.22">0%</text>
<text x="279.52" y="241.95" font-size="6.7" text-anchor="middle" fill="#1c1c1c" stroke="#1c1c1c" stroke-width="0.22">2.5</text>
<text x="301.04" y="241.95" font-size="6.7" text-anchor="middle" fill="#1c1c1c" stroke="#1c1c1c" stroke-width="0.22">5.0</text>
<text x="301.04" y="387.55" font-size="6.7" text-anchor="middle" fill="#1c1c1c" stroke="#1c1c1c" stroke-width="0.22">0.5%</text>
<text x="322.56" y="241.95" font-size="6.7" text-anchor="middle" fill="#1c1c1c" stroke="#1c1c1c" stroke-width="0.22">7.5</text>
<text x="344.08" y="241.95" font-size="6.7" text-anchor="middle" fill="#1c1c1c" stroke="#1c1c1c" stroke-width="0.22">10.0</text>
<text x="344.08" y="387.55" font-size="6.7" text-anchor="middle" fill="#1c1c1c" stroke="#1c1c1c" stroke-width="0.22">1%</text>
<text x="301.15" y="229.5" font-size="8" text-anchor="middle" fill="#000" stroke="#000" stroke-width="0.2">O<tspan font-size="4.6" dy="2">2</tspan><tspan dy="-2"> (mg/L)</tspan></text>
<text x="301.15" y="398.9" font-size="8" text-anchor="middle" fill="#000" stroke="#000" stroke-width="0.22">Relative abundance</text>
<rect x="359.4" y="248.55" width="104.2" height="126.95" fill="#fff"/>
<path d="M379.35 248.55V375.5M400.85 248.55V375.5M422.35 248.55V375.5M443.85 248.55V375.5M359.4 268.4H463.6M359.4 297.2H463.6M359.4 326H463.6M359.4 354.8H463.6" stroke="#f2f2f2" stroke-width="0.6" fill="none"/>
<path d="M368.6 248.55V375.5M359.4 254H463.6M390.1 248.55V375.5M359.4 282.8H463.6M411.6 248.55V375.5M359.4 311.6H463.6M433.1 248.55V375.5M359.4 340.4H463.6M454.6 248.55V375.5M359.4 369.2H463.6" stroke="#e9e9e9" stroke-width="0.9" fill="none"/>
<polygon points="368.6,268.9 374.3,268.9 387.1,294.3 409.6,300.4 368.6,311.5" fill="#cdb394"/>
<polygon points="374.3,268.9 391.2,294.3 414.5,300.1 368.8,311.5 409.6,300.4 387.1,294.3" fill="#00a19b"/>
<polyline points="374.3,268.9 387.1,294.3 409.6,300.4" fill="none" stroke="#000" stroke-width="1.1" stroke-linejoin="miter" stroke-linecap="butt"/>
<polyline points="374.5,268.9 391.2,294.3 414.5,300.1 368.8,311.5" fill="none" stroke="#000" stroke-width="1.2" stroke-linejoin="miter" stroke-linecap="butt"/>
<polyline points="442,268.9 370.7,296.4 368.2,299.5 367.6,303 367.6,311" fill="none" stroke="#000" stroke-width="1.4" stroke-dasharray="4.3 1.6 1.3 1.6" stroke-linejoin="round"/>
<text x="398.7" y="293.6" font-size="6.7" font-weight="bold" fill="#00a19b" stroke="#00a19b" stroke-width="0.22"><tspan font-style="italic">Ac. aquilonius</tspan></text>
<text x="382.4" y="316.9" font-size="6.7" font-weight="bold" fill="#cdb394" stroke="#cdb394" stroke-width="0.22"><tspan font-style="italic">Ac.</tspan> sp. 23796</text>
<text x="364.4" y="320.7" font-size="7" font-style="italic" fill="#111" stroke="#111" stroke-width="0.2">O<tspan font-size="4.2" dy="1.7">2</tspan></text>
<rect x="359.4" y="248.55" width="104.2" height="126.95" fill="none" stroke="#3d3d3d" stroke-width="1.0"/>
<path d="M368.6 248.55v-3.3M368.6 375.5v3.3M359.4 254h-3.3M390.1 248.55v-3.3M390.1 375.5v3.3M359.4 282.8h-3.3M411.6 248.55v-3.3M411.6 375.5v3.3M359.4 311.6h-3.3M433.1 248.55v-3.3M433.1 375.5v3.3M359.4 340.4h-3.3M454.6 248.55v-3.3M454.6 375.5v3.3M359.4 369.2h-3.3" stroke="#333333" stroke-width="0.9" fill="none"/>
<text x="368.6" y="241.95" font-size="6.7" text-anchor="middle" fill="#1c1c1c" stroke="#1c1c1c" stroke-width="0.22">0.0</text>
<text x="368.6" y="387.55" font-size="6.7" text-anchor="middle" fill="#1c1c1c" stroke="#1c1c1c" stroke-width="0.22">0%</text>
<text x="390.1" y="241.95" font-size="6.7" text-anchor="middle" fill="#1c1c1c" stroke="#1c1c1c" stroke-width="0.22">2.5</text>
<text x="411.6" y="241.95" font-size="6.7" text-anchor="middle" fill="#1c1c1c" stroke="#1c1c1c" stroke-width="0.22">5.0</text>
<text x="411.6" y="387.55" font-size="6.7" text-anchor="middle" fill="#1c1c1c" stroke="#1c1c1c" stroke-width="0.22">0.5%</text>
<text x="433.1" y="241.95" font-size="6.7" text-anchor="middle" fill="#1c1c1c" stroke="#1c1c1c" stroke-width="0.22">7.5</text>
<text x="454.6" y="241.95" font-size="6.7" text-anchor="middle" fill="#1c1c1c" stroke="#1c1c1c" stroke-width="0.22">10.0</text>
<text x="454.6" y="387.55" font-size="6.7" text-anchor="middle" fill="#1c1c1c" stroke="#1c1c1c" stroke-width="0.22">1%</text>
<text x="411.5" y="229.5" font-size="8" text-anchor="middle" fill="#000" stroke="#000" stroke-width="0.2">O<tspan font-size="4.6" dy="2">2</tspan><tspan dy="-2"> (mg/L)</tspan></text>
<text x="411.5" y="398.9" font-size="8" text-anchor="middle" fill="#000" stroke="#000" stroke-width="0.22">Relative abundance</text>
<rect x="469.9" y="248.55" width="104.6" height="126.95" fill="#fff"/>
<path d="M489.95 248.55V375.5M511.45 248.55V375.5M532.95 248.55V375.5M554.45 248.55V375.5M469.9 268.4H574.5M469.9 297.2H574.5M469.9 326H574.5M469.9 354.8H574.5" stroke="#f2f2f2" stroke-width="0.6" fill="none"/>
<path d="M479.2 248.55V375.5M469.9 254H574.5M500.7 248.55V375.5M469.9 282.8H574.5M522.2 248.55V375.5M469.9 311.6H574.5M543.7 248.55V375.5M469.9 340.4H574.5M565.2 248.55V375.5M469.9 369.2H574.5" stroke="#e9e9e9" stroke-width="0.9" fill="none"/>
<polygon points="479.2,257 499.8,257 479.8,296.9" fill="#00a19b"/>
<polygon points="479.4,297 493.2,311.5 479,311.5" fill="#a97fb0"/>
<polyline points="479.4,257 479.4,297" fill="none" stroke="#000" stroke-width="0.8" stroke-linejoin="miter" stroke-linecap="butt"/>
<polyline points="499.8,257 479.8,296.9 493.2,311.5" fill="none" stroke="#000" stroke-width="1.2" stroke-linejoin="miter" stroke-linecap="butt"/>
<polyline points="551.7,257.5 483,297.8 480.5,303 478.8,311" fill="none" stroke="#000" stroke-width="1.4" stroke-dasharray="4.3 1.6 1.3 1.6" stroke-linejoin="round"/>
<text x="511.9" y="289.2" font-size="6.7" font-weight="bold" fill="#00a19b" stroke="#00a19b" stroke-width="0.22"><tspan font-style="italic">Ac. aquilonius</tspan></text>
<text x="486.2" y="320.6" font-size="6.7" font-weight="bold" fill="#a97fb0" stroke="#a97fb0" stroke-width="0.22"><tspan font-style="italic">Ac. lapponiensis</tspan></text>
<text x="476" y="320.7" font-size="7" font-style="italic" fill="#111" stroke="#111" stroke-width="0.2">O<tspan font-size="4.2" dy="1.7">2</tspan></text>
<rect x="469.9" y="248.55" width="104.6" height="126.95" fill="none" stroke="#3d3d3d" stroke-width="1.0"/>
<path d="M479.2 248.55v-3.3M479.2 375.5v3.3M469.9 254h-3.3M500.7 248.55v-3.3M500.7 375.5v3.3M469.9 282.8h-3.3M522.2 248.55v-3.3M522.2 375.5v3.3M469.9 311.6h-3.3M543.7 248.55v-3.3M543.7 375.5v3.3M469.9 340.4h-3.3M565.2 248.55v-3.3M565.2 375.5v3.3M469.9 369.2h-3.3" stroke="#333333" stroke-width="0.9" fill="none"/>
<text x="479.2" y="241.95" font-size="6.7" text-anchor="middle" fill="#1c1c1c" stroke="#1c1c1c" stroke-width="0.22">0.0</text>
<text x="479.2" y="387.55" font-size="6.7" text-anchor="middle" fill="#1c1c1c" stroke="#1c1c1c" stroke-width="0.22">0%</text>
<text x="500.7" y="241.95" font-size="6.7" text-anchor="middle" fill="#1c1c1c" stroke="#1c1c1c" stroke-width="0.22">2.5</text>
<text x="522.2" y="241.95" font-size="6.7" text-anchor="middle" fill="#1c1c1c" stroke="#1c1c1c" stroke-width="0.22">5.0</text>
<text x="522.2" y="387.55" font-size="6.7" text-anchor="middle" fill="#1c1c1c" stroke="#1c1c1c" stroke-width="0.22">0.5%</text>
<text x="543.7" y="241.95" font-size="6.7" text-anchor="middle" fill="#1c1c1c" stroke="#1c1c1c" stroke-width="0.22">7.5</text>
<text x="565.2" y="241.95" font-size="6.7" text-anchor="middle" fill="#1c1c1c" stroke="#1c1c1c" stroke-width="0.22">10.0</text>
<text x="565.2" y="387.55" font-size="6.7" text-anchor="middle" fill="#1c1c1c" stroke="#1c1c1c" stroke-width="0.22">1%</text>
<text x="522.2" y="229.5" font-size="8" text-anchor="middle" fill="#000" stroke="#000" stroke-width="0.2">O<tspan font-size="4.6" dy="2">2</tspan><tspan dy="-2"> (mg/L)</tspan></text>
<text x="522.2" y="398.9" font-size="8" text-anchor="middle" fill="#000" stroke="#000" stroke-width="0.22">Relative abundance</text>
<rect x="580.4" y="248.55" width="104.1" height="126.95" fill="#fff"/>
<path d="M600.43 248.55V375.5M621.88 248.55V375.5M643.33 248.55V375.5M664.78 248.55V375.5M580.4 268.4H684.5M580.4 297.2H684.5M580.4 326H684.5M580.4 354.8H684.5" stroke="#f2f2f2" stroke-width="0.6" fill="none"/>
<path d="M589.7 248.55V375.5M580.4 254H684.5M611.15 248.55V375.5M580.4 282.8H684.5M632.6 248.55V375.5M580.4 311.6H684.5M654.05 248.55V375.5M580.4 340.4H684.5M675.5 248.55V375.5M580.4 369.2H684.5" stroke="#e9e9e9" stroke-width="0.9" fill="none"/>
<polygon points="589.3,257 591,257 591,329.3 589.3,329.3" fill="#cdb394"/>
<polygon points="590.6,257 665.4,257 590.8,329.3" fill="#00a19b"/>
<polygon points="591,329.3 595.9,346 589.5,346 589.8,329.3" fill="#a97fb0"/>
<polyline points="590.8,257 590.8,329.3" fill="none" stroke="#000" stroke-width="0.8" stroke-linejoin="miter" stroke-linecap="butt"/>
<polyline points="664.9,257.5 591,329.3 595.9,346" fill="none" stroke="#000" stroke-width="1.2" stroke-linejoin="miter" stroke-linecap="butt"/>
<polyline points="666.5,258 592.2,330.3 590.2,335 589.6,346" fill="none" stroke="#000" stroke-width="1.4" stroke-dasharray="4.3 1.6 1.3 1.6" stroke-linejoin="round"/>
<text x="624.3" y="312.1" font-size="6.7" font-weight="bold" fill="#00a19b" stroke="#00a19b" stroke-width="0.22"><tspan font-style="italic">Ac. aquilonius</tspan></text>
<text x="615.9" y="320" font-size="6.7" font-weight="bold" fill="#cdb394" stroke="#cdb394" stroke-width="0.22"><tspan font-style="italic">Ac.</tspan> sp. 23796</text>
<text x="606.2" y="328.2" font-size="6.7" font-weight="bold" fill="#a97fb0" stroke="#a97fb0" stroke-width="0.22"><tspan font-style="italic">Ac. lapponiensis</tspan></text>
<text x="585.8" y="354.9" font-size="7" font-style="italic" fill="#111" stroke="#111" stroke-width="0.2">O<tspan font-size="4.2" dy="1.7">2</tspan></text>
<rect x="580.4" y="248.55" width="104.1" height="126.95" fill="none" stroke="#3d3d3d" stroke-width="1.0"/>
<path d="M589.7 248.55v-3.3M589.7 375.5v3.3M580.4 254h-3.3M611.15 248.55v-3.3M611.15 375.5v3.3M580.4 282.8h-3.3M632.6 248.55v-3.3M632.6 375.5v3.3M580.4 311.6h-3.3M654.05 248.55v-3.3M654.05 375.5v3.3M580.4 340.4h-3.3M675.5 248.55v-3.3M675.5 375.5v3.3M580.4 369.2h-3.3" stroke="#333333" stroke-width="0.9" fill="none"/>
<text x="589.7" y="241.95" font-size="6.7" text-anchor="middle" fill="#1c1c1c" stroke="#1c1c1c" stroke-width="0.22">0.0</text>
<text x="589.7" y="387.55" font-size="6.7" text-anchor="middle" fill="#1c1c1c" stroke="#1c1c1c" stroke-width="0.22">0%</text>
<text x="611.15" y="241.95" font-size="6.7" text-anchor="middle" fill="#1c1c1c" stroke="#1c1c1c" stroke-width="0.22">2.5</text>
<text x="632.6" y="241.95" font-size="6.7" text-anchor="middle" fill="#1c1c1c" stroke="#1c1c1c" stroke-width="0.22">5.0</text>
<text x="632.6" y="387.55" font-size="6.7" text-anchor="middle" fill="#1c1c1c" stroke="#1c1c1c" stroke-width="0.22">0.5%</text>
<text x="654.05" y="241.95" font-size="6.7" text-anchor="middle" fill="#1c1c1c" stroke="#1c1c1c" stroke-width="0.22">7.5</text>
<text x="675.5" y="241.95" font-size="6.7" text-anchor="middle" fill="#1c1c1c" stroke="#1c1c1c" stroke-width="0.22">10.0</text>
<text x="675.5" y="387.55" font-size="6.7" text-anchor="middle" fill="#1c1c1c" stroke="#1c1c1c" stroke-width="0.22">1%</text>
<text x="632.45" y="229.5" font-size="8" text-anchor="middle" fill="#000" stroke="#000" stroke-width="0.2">O<tspan font-size="4.6" dy="2">2</tspan><tspan dy="-2"> (mg/L)</tspan></text>
<text x="632.45" y="398.9" font-size="8" text-anchor="middle" fill="#000" stroke="#000" stroke-width="0.22">Relative abundance</text>
<rect x="27.9" y="432.6" width="104.1" height="126.5" fill="#fff"/>
<path d="M47.33 432.6V559.1M68.78 432.6V559.1M90.22 432.6V559.1M111.68 432.6V559.1M27.9 452.77H132M27.9 481.52H132M27.9 510.27H132M27.9 539.02H132" stroke="#f2f2f2" stroke-width="0.6" fill="none"/>
<path d="M36.6 432.6V559.1M27.9 438.4H132M58.05 432.6V559.1M27.9 467.15H132M79.5 432.6V559.1M27.9 495.9H132M100.95 432.6V559.1M27.9 524.65H132M122.4 432.6V559.1M27.9 553.4H132" stroke="#e9e9e9" stroke-width="0.9" fill="none"/>
<polygon points="36.6,440 47,443.2 36.6,443.6" fill="#edb350"/>
<polyline points="36.6,440 47,443.2 36.6,443.6" fill="none" stroke="#000" stroke-width="1.1" stroke-linejoin="miter" stroke-linecap="butt"/>
<polyline points="82,440 47,443.4" fill="none" stroke="#000" stroke-width="1.4" stroke-dasharray="4.3 1.6 1.3 1.6" stroke-linejoin="round"/>
<text x="87" y="443.4" font-size="7" font-style="italic" fill="#111" stroke="#111" stroke-width="0.2">O<tspan font-size="4.2" dy="1.7">2</tspan></text>
<text x="41.4" y="458" font-size="6.7" font-weight="bold" fill="#f0923b" stroke="#f0923b" stroke-width="0.22"><tspan font-style="italic">Ac. boreus</tspan></text>
<rect x="27.9" y="432.6" width="104.1" height="126.5" fill="none" stroke="#3d3d3d" stroke-width="1.0"/>
<path d="M36.6 432.6v-3.3M36.6 559.1v3.3M27.9 438.4h-3.3M58.05 432.6v-3.3M58.05 559.1v3.3M27.9 467.15h-3.3M79.5 432.6v-3.3M79.5 559.1v3.3M27.9 495.9h-3.3M100.95 432.6v-3.3M100.95 559.1v3.3M27.9 524.65h-3.3M122.4 432.6v-3.3M122.4 559.1v3.3M27.9 553.4h-3.3" stroke="#333333" stroke-width="0.9" fill="none"/>
<text x="36.6" y="426.15" font-size="6.7" text-anchor="middle" fill="#1c1c1c" stroke="#1c1c1c" stroke-width="0.22">0.0</text>
<text x="34.2" y="571.75" font-size="6.7" text-anchor="middle" fill="#1c1c1c" stroke="#1c1c1c" stroke-width="0.22">0%</text>
<text x="22.1" y="440.15" font-size="6.7" text-anchor="end" fill="#1c1c1c" stroke="#1c1c1c" stroke-width="0.22">0.0</text>
<text x="58.05" y="426.15" font-size="6.7" text-anchor="middle" fill="#1c1c1c" stroke="#1c1c1c" stroke-width="0.22">2.5</text>
<text x="22.1" y="468.9" font-size="6.7" text-anchor="end" fill="#1c1c1c" stroke="#1c1c1c" stroke-width="0.22">2.5</text>
<text x="79.5" y="426.15" font-size="6.7" text-anchor="middle" fill="#1c1c1c" stroke="#1c1c1c" stroke-width="0.22">5.0</text>
<text x="77.1" y="571.75" font-size="6.7" text-anchor="middle" fill="#1c1c1c" stroke="#1c1c1c" stroke-width="0.22">0.025%</text>
<text x="22.1" y="497.65" font-size="6.7" text-anchor="end" fill="#1c1c1c" stroke="#1c1c1c" stroke-width="0.22">5.0</text>
<text x="100.95" y="426.15" font-size="6.7" text-anchor="middle" fill="#1c1c1c" stroke="#1c1c1c" stroke-width="0.22">7.5</text>
<text x="22.1" y="526.4" font-size="6.7" text-anchor="end" fill="#1c1c1c" stroke="#1c1c1c" stroke-width="0.22">7.5</text>
<text x="122.4" y="426.15" font-size="6.7" text-anchor="middle" fill="#1c1c1c" stroke="#1c1c1c" stroke-width="0.22">10.0</text>
<text x="120" y="571.75" font-size="6.7" text-anchor="middle" fill="#1c1c1c" stroke="#1c1c1c" stroke-width="0.22">0.05%</text>
<text x="22.1" y="555.15" font-size="6.7" text-anchor="end" fill="#1c1c1c" stroke="#1c1c1c" stroke-width="0.22">10.0</text>
<text x="79.95" y="414" font-size="8" text-anchor="middle" fill="#000" stroke="#000" stroke-width="0.2">O<tspan font-size="4.6" dy="2">2</tspan><tspan dy="-2"> (mg/L)</tspan></text>
<text x="77.31" y="582.8" font-size="8" text-anchor="middle" fill="#000" stroke="#000" stroke-width="0.22">Relative abundance</text>
<text transform="translate(5.8,495.85) rotate(-90)" font-size="8" text-anchor="middle" fill="#000" stroke="#000" stroke-width="0.2">Depth (m)</text>
<rect x="138.7" y="432.6" width="104" height="126.5" fill="#fff"/>
<path d="M158.18 432.6V559.1M179.73 432.6V559.1M201.28 432.6V559.1M222.82 432.6V559.1M138.7 452.77H242.7M138.7 481.52H242.7M138.7 510.27H242.7M138.7 539.02H242.7" stroke="#f2f2f2" stroke-width="0.6" fill="none"/>
<path d="M147.4 432.6V559.1M138.7 438.4H242.7M168.95 432.6V559.1M138.7 467.15H242.7M190.5 432.6V559.1M138.7 495.9H242.7M212.05 432.6V559.1M138.7 524.65H242.7M233.6 432.6V559.1M138.7 553.4H242.7" stroke="#e9e9e9" stroke-width="0.9" fill="none"/>
<polygon points="147.4,449.8 157.4,449.8 172.7,465.2 147.4,480.4" fill="#cdb394"/>
<polygon points="172.7,465.2 166.2,475.2 163.2,481.3 152.2,488.9 149.8,500 148.6,507 150.3,510.6 147.4,510.6 147.4,480.4" fill="#edb350"/>
<polyline points="157.4,449.8 172.7,465.2 147.4,480.4 147.4,503 149.5,510.6" fill="none" stroke="#000" stroke-width="1.2" stroke-linejoin="miter" stroke-linecap="butt"/>
<polyline points="212.1,450.1 170.9,462 160,465.9 153.9,470.8 151.3,477.8 151.3,490 152.2,502.3 153,509.3" fill="none" stroke="#000" stroke-width="1.4" stroke-dasharray="4.3 1.6 1.3 1.6" stroke-linejoin="round"/>
<text x="161.3" y="448.7" font-size="6.7" font-weight="bold" fill="#cdb394" stroke="#cdb394" stroke-width="0.22"><tspan font-style="italic">Ac.</tspan> sp. 23796</text>
<text x="168.3" y="484.1" font-size="6.7" font-weight="bold" fill="#edb350" stroke="#edb350" stroke-width="0.22"><tspan font-style="italic">Ac. boreus</tspan></text>
<text x="155.1" y="513.5" font-size="7" font-style="italic" fill="#111" stroke="#111" stroke-width="0.2">O<tspan font-size="4.2" dy="1.7">2</tspan></text>
<rect x="138.7" y="432.6" width="104" height="126.5" fill="none" stroke="#3d3d3d" stroke-width="1.0"/>
<path d="M147.4 432.6v-3.3M147.4 559.1v3.3M138.7 438.4h-3.3M168.95 432.6v-3.3M168.95 559.1v3.3M138.7 467.15h-3.3M190.5 432.6v-3.3M190.5 559.1v3.3M138.7 495.9h-3.3M212.05 432.6v-3.3M212.05 559.1v3.3M138.7 524.65h-3.3M233.6 432.6v-3.3M233.6 559.1v3.3M138.7 553.4h-3.3" stroke="#333333" stroke-width="0.9" fill="none"/>
<text x="147.4" y="426.15" font-size="6.7" text-anchor="middle" fill="#1c1c1c" stroke="#1c1c1c" stroke-width="0.22">0.0</text>
<text x="146.8" y="571.75" font-size="6.7" text-anchor="middle" fill="#1c1c1c" stroke="#1c1c1c" stroke-width="0.22">0%</text>
<text x="168.95" y="426.15" font-size="6.7" text-anchor="middle" fill="#1c1c1c" stroke="#1c1c1c" stroke-width="0.22">2.5</text>
<text x="190.5" y="426.15" font-size="6.7" text-anchor="middle" fill="#1c1c1c" stroke="#1c1c1c" stroke-width="0.22">5.0</text>
<text x="189.9" y="571.75" font-size="6.7" text-anchor="middle" fill="#1c1c1c" stroke="#1c1c1c" stroke-width="0.22">0.05%</text>
<text x="212.05" y="426.15" font-size="6.7" text-anchor="middle" fill="#1c1c1c" stroke="#1c1c1c" stroke-width="0.22">7.5</text>
<text x="233.6" y="426.15" font-size="6.7" text-anchor="middle" fill="#1c1c1c" stroke="#1c1c1c" stroke-width="0.22">10.0</text>
<text x="233" y="571.75" font-size="6.7" text-anchor="middle" fill="#1c1c1c" stroke="#1c1c1c" stroke-width="0.22">0.1%</text>
<text x="190.7" y="414" font-size="8" text-anchor="middle" fill="#000" stroke="#000" stroke-width="0.2">O<tspan font-size="4.6" dy="2">2</tspan><tspan dy="-2"> (mg/L)</tspan></text>
<text x="190.04" y="582.8" font-size="8" text-anchor="middle" fill="#000" stroke="#000" stroke-width="0.22">Relative abundance</text>
<rect x="249.1" y="432.6" width="104.2" height="126.5" fill="#fff"/>
<path d="M268.76 432.6V559.1M290.28 432.6V559.1M311.8 432.6V559.1M333.32 432.6V559.1M249.1 452.77H353.3M249.1 481.52H353.3M249.1 510.27H353.3M249.1 539.02H353.3" stroke="#f2f2f2" stroke-width="0.6" fill="none"/>
<path d="M258 432.6V559.1M249.1 438.4H353.3M279.52 432.6V559.1M249.1 467.15H353.3M301.04 432.6V559.1M249.1 495.9H353.3M322.56 432.6V559.1M249.1 524.65H353.3M344.08 432.6V559.1M249.1 553.4H353.3" stroke="#e9e9e9" stroke-width="0.9" fill="none"/>
<polyline points="258.1,443.7 258.1,461" fill="none" stroke="#444" stroke-width="1.4"/>
<polygon points="258,461.2 274.5,472.6 258,484.5" fill="#edb350"/>
<polyline points="258,461.2 274.5,472.6 258,484.5" fill="none" stroke="#000" stroke-width="1.2" stroke-linejoin="miter" stroke-linecap="butt"/>
<polyline points="258.1,461.2 258.1,501.5" fill="none" stroke="#000" stroke-width="1.6"/>
<polyline points="331.5,443.3 260.1,462 261.9,466 261.9,501.5" fill="none" stroke="#000" stroke-width="1.4" stroke-dasharray="4.3 1.6 1.3 1.6" stroke-linejoin="round"/>
<text x="278.2" y="475" font-size="6.7" font-weight="bold" fill="#edb350" stroke="#edb350" stroke-width="0.22"><tspan font-style="italic">Ac. boreus</tspan></text>
<text x="260.7" y="510.9" font-size="7" font-style="italic" fill="#111" stroke="#111" stroke-width="0.2">O<tspan font-size="4.2" dy="1.7">2</tspan></text>
<rect x="249.1" y="432.6" width="104.2" height="126.5" fill="none" stroke="#3d3d3d" stroke-width="1.0"/>
<path d="M258 432.6v-3.3M258 559.1v3.3M249.1 438.4h-3.3M279.52 432.6v-3.3M279.52 559.1v3.3M249.1 467.15h-3.3M301.04 432.6v-3.3M301.04 559.1v3.3M249.1 495.9h-3.3M322.56 432.6v-3.3M322.56 559.1v3.3M249.1 524.65h-3.3M344.08 432.6v-3.3M344.08 559.1v3.3M249.1 553.4h-3.3" stroke="#333333" stroke-width="0.9" fill="none"/>
<text x="258" y="426.15" font-size="6.7" text-anchor="middle" fill="#1c1c1c" stroke="#1c1c1c" stroke-width="0.22">0.0</text>
<text x="258" y="571.75" font-size="6.7" text-anchor="middle" fill="#1c1c1c" stroke="#1c1c1c" stroke-width="0.22">0%</text>
<text x="279.52" y="426.15" font-size="6.7" text-anchor="middle" fill="#1c1c1c" stroke="#1c1c1c" stroke-width="0.22">2.5</text>
<text x="301.04" y="426.15" font-size="6.7" text-anchor="middle" fill="#1c1c1c" stroke="#1c1c1c" stroke-width="0.22">5.0</text>
<text x="301.04" y="571.75" font-size="6.7" text-anchor="middle" fill="#1c1c1c" stroke="#1c1c1c" stroke-width="0.22">0.05%</text>
<text x="322.56" y="426.15" font-size="6.7" text-anchor="middle" fill="#1c1c1c" stroke="#1c1c1c" stroke-width="0.22">7.5</text>
<text x="344.08" y="426.15" font-size="6.7" text-anchor="middle" fill="#1c1c1c" stroke="#1c1c1c" stroke-width="0.22">10.0</text>
<text x="344.08" y="571.75" font-size="6.7" text-anchor="middle" fill="#1c1c1c" stroke="#1c1c1c" stroke-width="0.22">0.1%</text>
<text x="301.2" y="414" font-size="8" text-anchor="middle" fill="#000" stroke="#000" stroke-width="0.2">O<tspan font-size="4.6" dy="2">2</tspan><tspan dy="-2"> (mg/L)</tspan></text>
<text x="301.2" y="582.8" font-size="8" text-anchor="middle" fill="#000" stroke="#000" stroke-width="0.22">Relative abundance</text>
<rect x="359.3" y="432.6" width="104.2" height="126.5" fill="#fff"/>
<path d="M379.35 432.6V559.1M400.85 432.6V559.1M422.35 432.6V559.1M443.85 432.6V559.1M359.3 452.77H463.5M359.3 481.52H463.5M359.3 510.27H463.5M359.3 539.02H463.5" stroke="#f2f2f2" stroke-width="0.6" fill="none"/>
<path d="M368.6 432.6V559.1M359.3 438.4H463.5M390.1 432.6V559.1M359.3 467.15H463.5M411.6 432.6V559.1M359.3 495.9H463.5M433.1 432.6V559.1M359.3 524.65H463.5M454.6 432.6V559.1M359.3 553.4H463.5" stroke="#e9e9e9" stroke-width="0.9" fill="none"/>
<polygon points="368.6,444 434.4,444 431.5,455.6 385.6,483.9 368.6,455.9" fill="#00a19b"/>
<polygon points="368.6,455.9 385.6,483.9 368.6,495.7" fill="#cdb394"/>
<polyline points="368.8,444 368.8,455.9 385.6,483.9" fill="none" stroke="#000" stroke-width="1.2" stroke-linejoin="miter" stroke-linecap="butt"/>
<polyline points="434.4,444 431.5,455.6 385.6,483.9 368.6,495.7" fill="none" stroke="#000" stroke-width="1.2" stroke-linejoin="miter" stroke-linecap="butt"/>
<polyline points="422.7,443.3 372.6,455.6 381.5,475 385.2,484.8 374,495.4" fill="none" stroke="#000" stroke-width="1.4" stroke-dasharray="4.3 1.6 1.3 1.6" stroke-linejoin="round"/>
<text x="403.4" y="480.7" font-size="6.7" font-weight="bold" fill="#00a19b" stroke="#00a19b" stroke-width="0.22"><tspan font-style="italic">Ac. aquilonius</tspan></text>
<text x="386.4" y="494.2" font-size="6.7" font-weight="bold" fill="#cdb394" stroke="#cdb394" stroke-width="0.22"><tspan font-style="italic">Ac.</tspan> sp. 23796</text>
<text x="370.1" y="503.9" font-size="7" font-style="italic" fill="#111" stroke="#111" stroke-width="0.2" transform="rotate(25 370.1 501.5)">O<tspan font-size="4.2" dy="1.7">2</tspan></text>
<rect x="359.3" y="432.6" width="104.2" height="126.5" fill="none" stroke="#3d3d3d" stroke-width="1.0"/>
<path d="M368.6 432.6v-3.3M368.6 559.1v3.3M359.3 438.4h-3.3M390.1 432.6v-3.3M390.1 559.1v3.3M359.3 467.15h-3.3M411.6 432.6v-3.3M411.6 559.1v3.3M359.3 495.9h-3.3M433.1 432.6v-3.3M433.1 559.1v3.3M359.3 524.65h-3.3M454.6 432.6v-3.3M454.6 559.1v3.3M359.3 553.4h-3.3" stroke="#333333" stroke-width="0.9" fill="none"/>
<text x="368.6" y="426.15" font-size="6.7" text-anchor="middle" fill="#1c1c1c" stroke="#1c1c1c" stroke-width="0.22">0.0</text>
<text x="368.6" y="571.75" font-size="6.7" text-anchor="middle" fill="#1c1c1c" stroke="#1c1c1c" stroke-width="0.22">0%</text>
<text x="390.1" y="426.15" font-size="6.7" text-anchor="middle" fill="#1c1c1c" stroke="#1c1c1c" stroke-width="0.22">2.5</text>
<text x="411.6" y="426.15" font-size="6.7" text-anchor="middle" fill="#1c1c1c" stroke="#1c1c1c" stroke-width="0.22">5.0</text>
<text x="411.6" y="571.75" font-size="6.7" text-anchor="middle" fill="#1c1c1c" stroke="#1c1c1c" stroke-width="0.22">0.05%</text>
<text x="433.1" y="426.15" font-size="6.7" text-anchor="middle" fill="#1c1c1c" stroke="#1c1c1c" stroke-width="0.22">7.5</text>
<text x="454.6" y="426.15" font-size="6.7" text-anchor="middle" fill="#1c1c1c" stroke="#1c1c1c" stroke-width="0.22">10.0</text>
<text x="454.6" y="571.75" font-size="6.7" text-anchor="middle" fill="#1c1c1c" stroke="#1c1c1c" stroke-width="0.22">0.1%</text>
<text x="411.4" y="414" font-size="8" text-anchor="middle" fill="#000" stroke="#000" stroke-width="0.2">O<tspan font-size="4.6" dy="2">2</tspan><tspan dy="-2"> (mg/L)</tspan></text>
<text x="411.4" y="582.8" font-size="8" text-anchor="middle" fill="#000" stroke="#000" stroke-width="0.22">Relative abundance</text>
<rect x="469.9" y="432.6" width="104.6" height="126.5" fill="#fff"/>
<path d="M489.95 432.6V559.1M511.45 432.6V559.1M532.95 432.6V559.1M554.45 432.6V559.1M469.9 452.77H574.5M469.9 481.52H574.5M469.9 510.27H574.5M469.9 539.02H574.5" stroke="#f2f2f2" stroke-width="0.6" fill="none"/>
<path d="M479.2 432.6V559.1M469.9 438.4H574.5M500.7 432.6V559.1M469.9 467.15H574.5M522.2 432.6V559.1M469.9 495.9H574.5M543.7 432.6V559.1M469.9 524.65H574.5M565.2 432.6V559.1M469.9 553.4H574.5" stroke="#e9e9e9" stroke-width="0.9" fill="none"/>
<polygon points="479.2,444 521.6,444 504,462 483.9,475.7 483.4,489.7 479.2,489.7" fill="#cdb394"/>
<polygon points="521.6,444 511.9,455 504,463.8 512.8,475.7 491.8,489.7 483.4,489.7 483.9,475.7 504,462" fill="#00a19b"/>
<polyline points="521.6,444 504,462 483.9,475.7 483.4,489.7" fill="none" stroke="#000" stroke-width="1.2" stroke-linejoin="miter" stroke-linecap="butt"/>
<polyline points="521.6,444 511.9,455 504,463.8 512.8,475.7 491.8,489.7" fill="none" stroke="#000" stroke-width="1.2" stroke-linejoin="miter" stroke-linecap="butt"/>
<polyline points="551.9,443.7 511,455.5 484.5,462.8 483,465.5 482.7,489" fill="none" stroke="#000" stroke-width="1.4" stroke-dasharray="4.3 1.6 1.3 1.6" stroke-linejoin="round"/>
<text x="522.4" y="463" font-size="6.7" font-weight="bold" fill="#cdb394" stroke="#cdb394" stroke-width="0.22"><tspan font-style="italic">Ac.</tspan> sp. 23796</text>
<text x="507.2" y="489.3" font-size="6.7" font-weight="bold" fill="#00a19b" stroke="#00a19b" stroke-width="0.22"><tspan font-style="italic">Ac. aquilonius</tspan></text>
<text x="480" y="499" font-size="7" font-style="italic" fill="#111" stroke="#111" stroke-width="0.2">O<tspan font-size="4.2" dy="1.7">2</tspan></text>
<rect x="469.9" y="432.6" width="104.6" height="126.5" fill="none" stroke="#3d3d3d" stroke-width="1.0"/>
<path d="M479.2 432.6v-3.3M479.2 559.1v3.3M469.9 438.4h-3.3M500.7 432.6v-3.3M500.7 559.1v3.3M469.9 467.15h-3.3M522.2 432.6v-3.3M522.2 559.1v3.3M469.9 495.9h-3.3M543.7 432.6v-3.3M543.7 559.1v3.3M469.9 524.65h-3.3M565.2 432.6v-3.3M565.2 559.1v3.3M469.9 553.4h-3.3" stroke="#333333" stroke-width="0.9" fill="none"/>
<text x="479.2" y="426.15" font-size="6.7" text-anchor="middle" fill="#1c1c1c" stroke="#1c1c1c" stroke-width="0.22">0.0</text>
<text x="479.2" y="571.75" font-size="6.7" text-anchor="middle" fill="#1c1c1c" stroke="#1c1c1c" stroke-width="0.22">0%</text>
<text x="500.7" y="426.15" font-size="6.7" text-anchor="middle" fill="#1c1c1c" stroke="#1c1c1c" stroke-width="0.22">2.5</text>
<text x="522.2" y="426.15" font-size="6.7" text-anchor="middle" fill="#1c1c1c" stroke="#1c1c1c" stroke-width="0.22">5.0</text>
<text x="522.2" y="571.75" font-size="6.7" text-anchor="middle" fill="#1c1c1c" stroke="#1c1c1c" stroke-width="0.22">0.5%</text>
<text x="543.7" y="426.15" font-size="6.7" text-anchor="middle" fill="#1c1c1c" stroke="#1c1c1c" stroke-width="0.22">7.5</text>
<text x="565.2" y="426.15" font-size="6.7" text-anchor="middle" fill="#1c1c1c" stroke="#1c1c1c" stroke-width="0.22">10.0</text>
<text x="565.2" y="571.75" font-size="6.7" text-anchor="middle" fill="#1c1c1c" stroke="#1c1c1c" stroke-width="0.22">1%</text>
<text x="522.2" y="414" font-size="8" text-anchor="middle" fill="#000" stroke="#000" stroke-width="0.2">O<tspan font-size="4.6" dy="2">2</tspan><tspan dy="-2"> (mg/L)</tspan></text>
<text x="522.2" y="582.8" font-size="8" text-anchor="middle" fill="#000" stroke="#000" stroke-width="0.22">Relative abundance</text>
<rect x="580.2" y="432.6" width="104.3" height="126.5" fill="#fff"/>
<path d="M600.43 432.6V559.1M621.88 432.6V559.1M643.33 432.6V559.1M664.78 432.6V559.1M580.2 452.77H684.5M580.2 481.52H684.5M580.2 510.27H684.5M580.2 539.02H684.5" stroke="#f2f2f2" stroke-width="0.6" fill="none"/>
<path d="M589.7 432.6V559.1M580.2 438.4H684.5M611.15 432.6V559.1M580.2 467.15H684.5M632.6 432.6V559.1M580.2 495.9H684.5M654.05 432.6V559.1M580.2 524.65H684.5M675.5 432.6V559.1M580.2 553.4H684.5" stroke="#e9e9e9" stroke-width="0.9" fill="none"/>
<polygon points="589.7,444 609.1,444 629.5,460.8 603.6,497.3 595.9,510 590.4,523.7 590,533 589.5,533" fill="#00a19b"/>
<polyline points="609.1,444 629.5,460.8 603.6,497.3 595.9,510 590.4,523.7 590,552.8" fill="none" stroke="#000" stroke-width="1.2" stroke-linejoin="miter" stroke-linecap="butt"/>
<polyline points="649.2,443.5 602.4,460.8 603.6,496.8 605.3,502.8 604.8,510 594,524.4 594,552.8" fill="none" stroke="#000" stroke-width="1.4" stroke-dasharray="4.3 1.6 1.3 1.6" stroke-linejoin="round"/>
<text x="624" y="480.7" font-size="6.7" font-weight="bold" fill="#00a19b" stroke="#00a19b" stroke-width="0.22"><tspan font-style="italic">Ac. aquilonius</tspan></text>
<text x="613.7" y="504.5" font-size="6.7" font-weight="bold" fill="#cdb394" stroke="#cdb394" stroke-width="0.22"><tspan font-style="italic">Ac.</tspan> sp. 23796</text>
<text x="598.8" y="552.8" font-size="7" font-style="italic" fill="#111" stroke="#111" stroke-width="0.2">O<tspan font-size="4.2" dy="1.7">2</tspan></text>
<rect x="580.2" y="432.6" width="104.3" height="126.5" fill="none" stroke="#3d3d3d" stroke-width="1.0"/>
<path d="M589.7 432.6v-3.3M589.7 559.1v3.3M580.2 438.4h-3.3M611.15 432.6v-3.3M611.15 559.1v3.3M580.2 467.15h-3.3M632.6 432.6v-3.3M632.6 559.1v3.3M580.2 495.9h-3.3M654.05 432.6v-3.3M654.05 559.1v3.3M580.2 524.65h-3.3M675.5 432.6v-3.3M675.5 559.1v3.3M580.2 553.4h-3.3" stroke="#333333" stroke-width="0.9" fill="none"/>
<text x="589.7" y="426.15" font-size="6.7" text-anchor="middle" fill="#1c1c1c" stroke="#1c1c1c" stroke-width="0.22">0.0</text>
<text x="589.7" y="571.75" font-size="6.7" text-anchor="middle" fill="#1c1c1c" stroke="#1c1c1c" stroke-width="0.22">0%</text>
<text x="611.15" y="426.15" font-size="6.7" text-anchor="middle" fill="#1c1c1c" stroke="#1c1c1c" stroke-width="0.22">2.5</text>
<text x="632.6" y="426.15" font-size="6.7" text-anchor="middle" fill="#1c1c1c" stroke="#1c1c1c" stroke-width="0.22">5.0</text>
<text x="632.6" y="571.75" font-size="6.7" text-anchor="middle" fill="#1c1c1c" stroke="#1c1c1c" stroke-width="0.22">0.5%</text>
<text x="654.05" y="426.15" font-size="6.7" text-anchor="middle" fill="#1c1c1c" stroke="#1c1c1c" stroke-width="0.22">7.5</text>
<text x="675.5" y="426.15" font-size="6.7" text-anchor="middle" fill="#1c1c1c" stroke="#1c1c1c" stroke-width="0.22">10.0</text>
<text x="675.5" y="571.75" font-size="6.7" text-anchor="middle" fill="#1c1c1c" stroke="#1c1c1c" stroke-width="0.22">1%</text>
<text x="632.35" y="414" font-size="8" text-anchor="middle" fill="#000" stroke="#000" stroke-width="0.2">O<tspan font-size="4.6" dy="2">2</tspan><tspan dy="-2"> (mg/L)</tspan></text>
<text x="632.35" y="582.8" font-size="8" text-anchor="middle" fill="#000" stroke="#000" stroke-width="0.22">Relative abundance</text>
<text x="131.6" y="338" font-size="8.1" text-anchor="middle" fill="#000" stroke="#000" stroke-width="0.22">Sweden</text>
<text x="131.6" y="346.2" font-size="6.7" text-anchor="middle" fill="#000" stroke="#000" stroke-width="0.22">Lake Ki1 (Kiruna)</text>
<text x="131.6" y="354.3" font-size="6.7" text-anchor="middle" fill="#000" stroke="#000" stroke-width="0.22"><tspan font-style="italic">Ki1</tspan>—2018-07-24</text>
<circle cx="131.6" cy="364.3" r="6.1" fill="#85882c" stroke="#222" stroke-width="0.8"/>
<text x="301" y="338" font-size="8.1" text-anchor="middle" fill="#000" stroke="#000" stroke-width="0.22">Sweden</text>
<text x="301" y="346.2" font-size="6.7" text-anchor="middle" fill="#000" stroke="#000" stroke-width="0.22">Lake Ki2 (Kiruna)</text>
<text x="301" y="354.3" font-size="6.7" text-anchor="middle" fill="#000" stroke="#000" stroke-width="0.22"><tspan font-style="italic">Ki2</tspan>—2018-07-27</text>
<circle cx="301" cy="364.3" r="6.1" fill="#85882c" stroke="#222" stroke-width="0.8"/>
<text x="411.3" y="338" font-size="8.1" text-anchor="middle" fill="#000" stroke="#000" stroke-width="0.22">Sweden</text>
<text x="411.3" y="346.2" font-size="6.7" text-anchor="middle" fill="#000" stroke="#000" stroke-width="0.22">Nästjärnen (Umeå)</text>
<text x="411.3" y="354.3" font-size="6.7" text-anchor="middle" fill="#000" stroke="#000" stroke-width="0.22"><tspan font-style="italic">Umea1</tspan>—2018-09-07</text>
<circle cx="411.3" cy="364.3" r="6.1" fill="#fdcf4b" stroke="#222" stroke-width="0.8"/>
<text x="522.1" y="338" font-size="8.1" text-anchor="middle" fill="#000" stroke="#000" stroke-width="0.22">Sweden</text>
<text x="522.1" y="346.2" font-size="6.7" text-anchor="middle" fill="#000" stroke="#000" stroke-width="0.22">Björntjärnen (Umeå)</text>
<text x="522.1" y="354.3" font-size="6.7" text-anchor="middle" fill="#000" stroke="#000" stroke-width="0.22"><tspan font-style="italic">Umea2</tspan>—2018-09-08</text>
<circle cx="522.1" cy="364.3" r="6.1" fill="#fdcf4b" stroke="#222" stroke-width="0.8"/>
<text x="632.6" y="338" font-size="8.1" text-anchor="middle" fill="#000" stroke="#000" stroke-width="0.22">Sweden</text>
<text x="632.6" y="346.2" font-size="6.7" text-anchor="middle" fill="#000" stroke="#000" stroke-width="0.22">Björntjärnen (Umeå)</text>
<text x="632.6" y="354.3" font-size="6.7" text-anchor="middle" fill="#000" stroke="#000" stroke-width="0.22"><tspan font-style="italic">Umea3</tspan>—2018-09-10</text>
<circle cx="632.6" cy="364.3" r="6.1" fill="#fdcf4b" stroke="#222" stroke-width="0.8"/>
<text x="79.6" y="519.9" font-size="8.1" text-anchor="middle" fill="#000" stroke="#000" stroke-width="0.22">Canada</text>
<text x="79.6" y="527.8" font-size="6.7" text-anchor="middle" fill="#000" stroke="#000" stroke-width="0.22">Pond B1_2 (KW)</text>
<text x="79.6" y="535.7" font-size="6.7" text-anchor="middle" fill="#000" stroke="#000" stroke-width="0.22"><tspan font-style="italic">B1_2</tspan>—2014-08-05</text>
<circle cx="79.6" cy="548.1" r="6.1" fill="#d72c20" stroke="#222" stroke-width="0.8"/>
<text x="190.5" y="519.9" font-size="8.1" text-anchor="middle" fill="#000" stroke="#000" stroke-width="0.22">Finland</text>
<text x="190.5" y="527.8" font-size="6.7" text-anchor="middle" fill="#000" stroke="#000" stroke-width="0.22">Alinen Mustajärvi (Evo)</text>
<text x="190.5" y="535.7" font-size="6.7" text-anchor="middle" fill="#000" stroke="#000" stroke-width="0.22"><tspan font-style="italic">AM</tspan>—2014-09-05</text>
<circle cx="190.5" cy="548.1" r="6.1" fill="#3d96d9" stroke="#222" stroke-width="0.8"/>
<text x="301" y="519.9" font-size="8.1" text-anchor="middle" fill="#000" stroke="#000" stroke-width="0.22">Finland</text>
<text x="301" y="527.8" font-size="6.7" text-anchor="middle" fill="#000" stroke="#000" stroke-width="0.22">Alinen Mustajärvi (Evo)</text>
<text x="301" y="535.7" font-size="6.7" text-anchor="middle" fill="#000" stroke="#000" stroke-width="0.22"><tspan font-style="italic">AM</tspan>—2015-08-08</text>
<circle cx="301" cy="548.1" r="6.1" fill="#3d96d9" stroke="#222" stroke-width="0.8"/>
<text x="411.3" y="519.9" font-size="8.1" text-anchor="middle" fill="#000" stroke="#000" stroke-width="0.22">Finland</text>
<text x="411.3" y="527.8" font-size="6.7" text-anchor="middle" fill="#000" stroke="#000" stroke-width="0.22">Ylinen Rajajärvi (Evo)</text>
<text x="411.3" y="535.7" font-size="6.7" text-anchor="middle" fill="#000" stroke="#000" stroke-width="0.22"><tspan font-style="italic">YR</tspan>—2015-08-13</text>
<circle cx="411.3" cy="548.1" r="6.1" fill="#3d96d9" stroke="#222" stroke-width="0.8"/>
<text x="522.1" y="519.9" font-size="8.1" text-anchor="middle" fill="#000" stroke="#000" stroke-width="0.22">Finland</text>
<text x="522.1" y="527.8" font-size="6.7" text-anchor="middle" fill="#000" stroke="#000" stroke-width="0.22">Valkea Kotinen (Evo)</text>
<text x="522.1" y="535.7" font-size="6.7" text-anchor="middle" fill="#000" stroke="#000" stroke-width="0.22"><tspan font-style="italic">VK</tspan>—2015-08-10</text>
<circle cx="522.1" cy="548.1" r="6.1" fill="#3d96d9" stroke="#222" stroke-width="0.8"/>
<text x="635.3" y="519.9" font-size="8.1" text-anchor="middle" fill="#000" stroke="#000" stroke-width="0.22">Finland</text>
<text x="635.3" y="527.8" font-size="6.7" text-anchor="middle" fill="#000" stroke="#000" stroke-width="0.22">Keskinen Rajajärvi (Evo)</text>
<text x="635.3" y="535.7" font-size="6.7" text-anchor="middle" fill="#000" stroke="#000" stroke-width="0.22"><tspan font-style="italic">KR</tspan>—2015-08-12</text>
<circle cx="632.4" cy="548.1" r="6.1" fill="#3d96d9" stroke="#222" stroke-width="0.8"/>
</svg>
</body></html>
